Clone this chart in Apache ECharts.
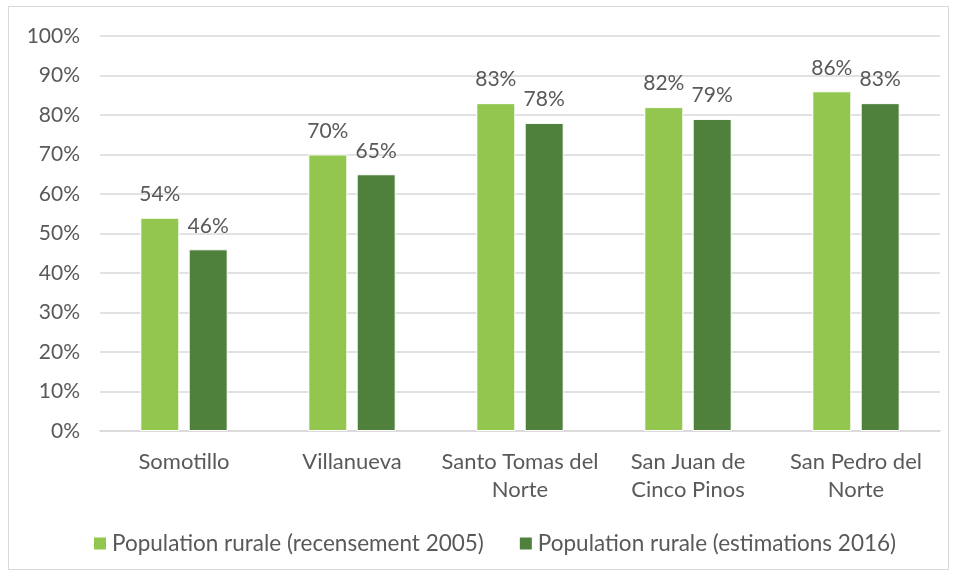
<!DOCTYPE html>
<html><head><meta charset="utf-8">
<script src="https://cdn.jsdelivr.net/npm/echarts@6/dist/echarts.min.js"></script>
<style>html,body{margin:0;padding:0;background:#fff}#c{width:957px;height:577px}
#frame{position:absolute;left:8px;top:6px;width:941px;height:564px;border:1px solid #d9d9d9;box-sizing:border-box;pointer-events:none}</style>
</head><body><div id="c"></div><div id="frame"></div>
<script>
const categories = ["Somotillo", "Villanueva", "Santo Tomas del\nNorte", "San Juan de\nCinco Pinos", "San Pedro del\nNorte"];
const seriesNames = ["Population rurale (recensement 2005)", "Population rurale (estimations 2016)"];
const census2005 = [54, 70, 83, 82, 86];
const estim2016 = [46, 65, 78, 79, 83];
const yTicks = [0, 100, 10];

const font = "Lato, 'Open Sans', sans-serif";
const txt = '#595959';
const chart = echarts.init(document.getElementById('c'));
const mkSeries = (name, data, color) => ({
  name, type: 'bar', data, barWidth: 39, barGap: '24%',
  itemStyle: {color, borderColor: '#ffffff', borderWidth: 1},
  label: {show: true, position: 'top', distance: 13, formatter: '{c}%', color: txt, fontSize: 21, fontFamily: font},
  emphasis: {disabled: true}
});
chart.setOption({
  animation: false,
  grid: {left: 100, right: 17, top: 36, bottom: 146},
  legend: {
    bottom: 17, left: 87, itemWidth: 14, itemHeight: 14, itemGap: 34, icon: 'rect',
    textStyle: {color: txt, fontSize: 22.5, fontFamily: font}
  },
  xAxis: {
    type: 'category', data: categories,
    axisLine: {lineStyle: {color: '#d9d9d9', width: 1.5}}, axisTick: {show: false},
    axisLabel: {color: txt, fontSize: 22, fontFamily: font, margin: 17, lineHeight: 28, interval: 0}
  },
  yAxis: {
    type: 'value', min: yTicks[0], max: yTicks[1], interval: yTicks[2],
    axisLine: {show: false}, axisTick: {show: false},
    splitLine: {lineStyle: {color: '#d9d9d9', width: 1.5}},
    axisLabel: {color: txt, fontSize: 21, fontFamily: font, formatter: '{value}%', margin: 20}
  },
  series: [mkSeries(seriesNames[0], census2005, '#92C64E'), mkSeries(seriesNames[1], estim2016, '#4F813C')]
});
</script></body></html>
